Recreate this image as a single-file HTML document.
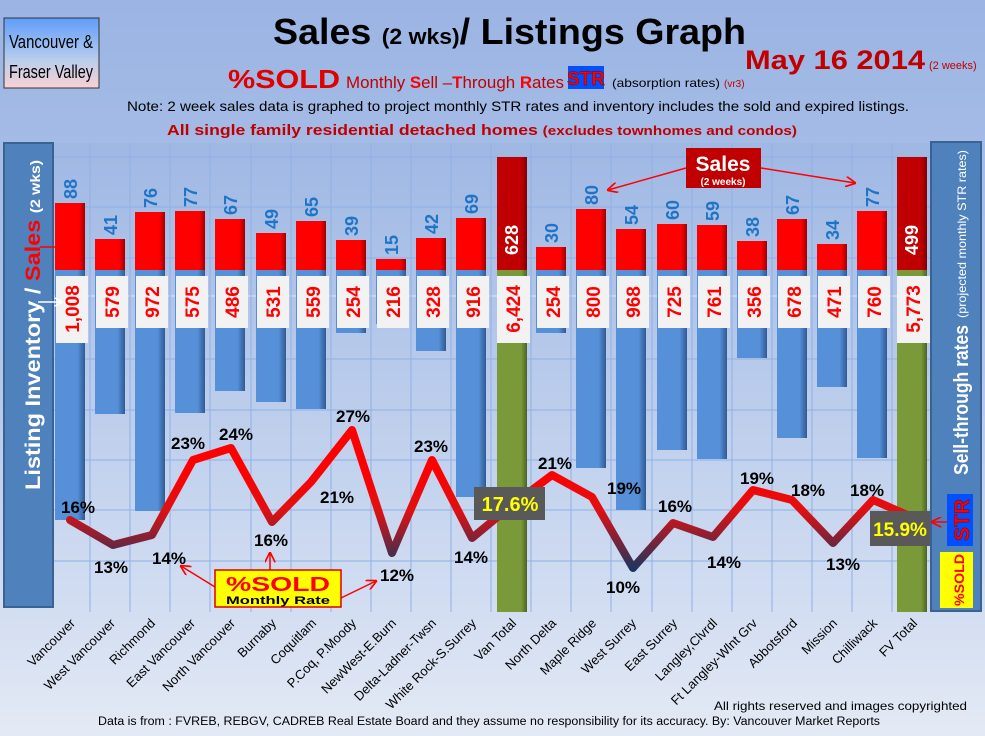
<!DOCTYPE html>
<html><head><meta charset="utf-8"><style>
body{margin:0;background:#9db5e4;}
svg{display:block;font-family:"Liberation Sans",Arial,sans-serif;}
</style></head><body>
<svg width="985" height="736" viewBox="0 0 985 736" xmlns="http://www.w3.org/2000/svg">
<defs>
<linearGradient id="bg" x1="0" y1="0" x2="0" y2="1"><stop offset="0" stop-color="#9bb4e3"/><stop offset="0.5" stop-color="#b2c6ea"/><stop offset="1" stop-color="#e4eaf5"/></linearGradient>
<linearGradient id="pa" x1="0" y1="0" x2="0" y2="1"><stop offset="0" stop-color="#9fb8e4"/><stop offset="1" stop-color="#d3def2"/></linearGradient>
<linearGradient id="vb" x1="0" y1="0" x2="0" y2="1"><stop offset="0" stop-color="#5f9dfb"/><stop offset="0.6" stop-color="#b9cdec"/><stop offset="1" stop-color="#fbd0d4"/></linearGradient>
<linearGradient id="rb" x1="0" y1="0" x2="1" y2="0"><stop offset="0" stop-color="#ff0000"/><stop offset="0.8" stop-color="#ff0000"/><stop offset="1" stop-color="#a00000"/></linearGradient>
<linearGradient id="bb" x1="0" y1="0" x2="1" y2="0"><stop offset="0" stop-color="#5590d8"/><stop offset="0.75" stop-color="#5590d8"/><stop offset="1" stop-color="#2f5a94"/></linearGradient>
<linearGradient id="gb" x1="0" y1="0" x2="1" y2="0"><stop offset="0" stop-color="#7a9a3a"/><stop offset="0.8" stop-color="#7a9a3a"/><stop offset="1" stop-color="#4d6422"/></linearGradient>
<linearGradient id="db" x1="0" y1="0" x2="1" y2="0"><stop offset="0" stop-color="#c00000"/><stop offset="0.8" stop-color="#c00000"/><stop offset="1" stop-color="#800000"/></linearGradient>
<linearGradient id="ln" gradientUnits="userSpaceOnUse" x1="0" y1="470" x2="0" y2="570"><stop offset="0" stop-color="#ff0000"/><stop offset="0.4" stop-color="#e01010"/><stop offset="1" stop-color="#1a3560"/></linearGradient>
<marker id="ar" viewBox="0 0 10 10" refX="9" refY="5" markerWidth="7" markerHeight="7" orient="auto"><path d="M0,0 L10,5 L0,10" fill="none" stroke="#ff0000" stroke-width="1.6"/></marker>
<marker id="aw" viewBox="0 0 10 10" refX="9" refY="5" markerWidth="6" markerHeight="6" orient="auto"><path d="M0,0 L10,5 L0,10" fill="none" stroke="#fff" stroke-width="1.6"/></marker>
</defs>
<rect width="985" height="736" fill="url(#bg)"/>
<rect x="50" y="143" width="882" height="469" fill="url(#pa)"/>
<g stroke="#8fb0e6" stroke-width="1">
<line x1="50" y1="157" x2="932" y2="157"/><line x1="50" y1="207" x2="932" y2="207"/><line x1="50" y1="258" x2="932" y2="258"/><line x1="50" y1="296" x2="932" y2="296" stroke="#dfe8f7"/><line x1="50" y1="359" x2="932" y2="359"/><line x1="50" y1="410" x2="932" y2="410"/><line x1="50" y1="460" x2="932" y2="460"/><line x1="50" y1="510" x2="932" y2="510"/><line x1="50" y1="561" x2="932" y2="561"/>
<line x1="90" y1="143" x2="90" y2="612"/><line x1="130" y1="143" x2="130" y2="612"/><line x1="170" y1="143" x2="170" y2="612"/><line x1="210" y1="143" x2="210" y2="612"/><line x1="251" y1="143" x2="251" y2="612"/><line x1="291" y1="143" x2="291" y2="612"/><line x1="331" y1="143" x2="331" y2="612"/><line x1="371" y1="143" x2="371" y2="612"/><line x1="411" y1="143" x2="411" y2="612"/><line x1="451" y1="143" x2="451" y2="612"/><line x1="491" y1="143" x2="491" y2="612"/><line x1="531" y1="143" x2="531" y2="612"/><line x1="571" y1="143" x2="571" y2="612"/><line x1="611" y1="143" x2="611" y2="612"/><line x1="652" y1="143" x2="652" y2="612"/><line x1="692" y1="143" x2="692" y2="612"/><line x1="732" y1="143" x2="732" y2="612"/><line x1="772" y1="143" x2="772" y2="612"/><line x1="812" y1="143" x2="812" y2="612"/><line x1="852" y1="143" x2="852" y2="612"/><line x1="892" y1="143" x2="892" y2="612"/>
</g>
<g fill="url(#bb)">
<rect x="55" y="270" width="30" height="250"/><rect x="95" y="270" width="30" height="144"/><rect x="135" y="270" width="30" height="241"/><rect x="175" y="270" width="30" height="143"/><rect x="215" y="270" width="30" height="121"/><rect x="256" y="270" width="30" height="132"/><rect x="296" y="270" width="30" height="139"/><rect x="336" y="270" width="30" height="63"/><rect x="376" y="270" width="30" height="54"/><rect x="416" y="270" width="30" height="81"/><rect x="456" y="270" width="30" height="227"/>
<rect x="536" y="270" width="30" height="63"/><rect x="576" y="270" width="30" height="198"/><rect x="616" y="270" width="30" height="240"/><rect x="657" y="270" width="30" height="180"/><rect x="697" y="270" width="30" height="189"/><rect x="737" y="270" width="30" height="88"/><rect x="777" y="270" width="30" height="168"/><rect x="817" y="270" width="30" height="117"/><rect x="857" y="270" width="30" height="188"/>
</g>
<rect x="497" y="270" width="30" height="342" fill="url(#gb)"/><rect x="897" y="270" width="30" height="342" fill="url(#gb)"/>
<g fill="url(#rb)">
<rect x="55" y="203" width="30" height="67"/><rect x="95" y="239" width="30" height="31"/><rect x="135" y="212" width="30" height="58"/><rect x="175" y="211" width="30" height="59"/><rect x="215" y="219" width="30" height="51"/><rect x="256" y="233" width="30" height="37"/><rect x="296" y="221" width="30" height="49"/><rect x="336" y="240" width="30" height="30"/><rect x="376" y="259" width="30" height="11"/><rect x="416" y="238" width="30" height="32"/><rect x="456" y="218" width="30" height="52"/>
<rect x="536" y="247" width="30" height="23"/><rect x="576" y="209" width="30" height="61"/><rect x="616" y="229" width="30" height="41"/><rect x="657" y="224" width="30" height="46"/><rect x="697" y="225" width="30" height="45"/><rect x="737" y="241" width="30" height="29"/><rect x="777" y="219" width="30" height="51"/><rect x="817" y="244" width="30" height="26"/><rect x="857" y="211" width="30" height="59"/>
</g>
<rect x="497" y="157" width="30" height="113" fill="url(#db)"/><rect x="897" y="157" width="30" height="113" fill="url(#db)"/>
<g font-weight="bold" font-size="18" fill="#1f74c6">
<text transform="translate(77,199) rotate(-90)">88</text><text transform="translate(117,235) rotate(-90)">41</text><text transform="translate(157,208) rotate(-90)">76</text><text transform="translate(197,207) rotate(-90)">77</text><text transform="translate(237,215) rotate(-90)">67</text><text transform="translate(278,229) rotate(-90)">49</text><text transform="translate(318,217) rotate(-90)">65</text><text transform="translate(358,236) rotate(-90)">39</text><text transform="translate(398,255) rotate(-90)">15</text><text transform="translate(438,234) rotate(-90)">42</text><text transform="translate(478,214) rotate(-90)">69</text>
<text transform="translate(558,243) rotate(-90)">30</text><text transform="translate(598,205) rotate(-90)">80</text><text transform="translate(638,225) rotate(-90)">54</text><text transform="translate(679,220) rotate(-90)">60</text><text transform="translate(719,221) rotate(-90)">59</text><text transform="translate(759,237) rotate(-90)">38</text><text transform="translate(799,215) rotate(-90)">67</text><text transform="translate(839,240) rotate(-90)">34</text><text transform="translate(879,207) rotate(-90)">77</text>
</g>
<g font-weight="bold" font-size="18" fill="#fff" text-anchor="middle">
<text transform="translate(518,240) rotate(-90)">628</text><text transform="translate(918,240) rotate(-90)">499</text>
</g>
<g fill="#f2f2f2">
<rect x="56" y="276" width="32" height="67"/><rect x="96" y="276" width="32" height="52"/><rect x="136" y="276" width="32" height="52"/><rect x="176" y="276" width="32" height="52"/><rect x="216" y="276" width="32" height="52"/><rect x="257" y="276" width="32" height="52"/><rect x="297" y="276" width="32" height="52"/><rect x="337" y="276" width="32" height="52"/><rect x="377" y="276" width="32" height="52"/><rect x="417" y="276" width="32" height="52"/><rect x="457" y="276" width="32" height="52"/><rect x="497" y="276" width="33" height="67"/>
<rect x="537" y="276" width="32" height="52"/><rect x="577" y="276" width="32" height="52"/><rect x="617" y="276" width="32" height="52"/><rect x="658" y="276" width="32" height="52"/><rect x="698" y="276" width="32" height="52"/><rect x="738" y="276" width="32" height="52"/><rect x="778" y="276" width="32" height="52"/><rect x="818" y="276" width="32" height="52"/><rect x="858" y="276" width="32" height="52"/><rect x="897" y="276" width="33" height="67"/>
</g>
<g font-weight="bold" font-size="19" fill="#ff0000" text-anchor="middle">
<text transform="translate(79,309) rotate(-90)">1,008</text><text transform="translate(119,302) rotate(-90)">579</text><text transform="translate(159,302) rotate(-90)">972</text><text transform="translate(199,302) rotate(-90)">575</text><text transform="translate(239,302) rotate(-90)">486</text><text transform="translate(280,302) rotate(-90)">531</text><text transform="translate(320,302) rotate(-90)">559</text><text transform="translate(360,302) rotate(-90)">254</text><text transform="translate(400,302) rotate(-90)">216</text><text transform="translate(440,302) rotate(-90)">328</text><text transform="translate(480,302) rotate(-90)">916</text><text transform="translate(520,309) rotate(-90)">6,424</text>
<text transform="translate(560,302) rotate(-90)">254</text><text transform="translate(600,302) rotate(-90)">800</text><text transform="translate(640,302) rotate(-90)">968</text><text transform="translate(681,302) rotate(-90)">725</text><text transform="translate(721,302) rotate(-90)">761</text><text transform="translate(761,302) rotate(-90)">356</text><text transform="translate(801,302) rotate(-90)">678</text><text transform="translate(841,302) rotate(-90)">471</text><text transform="translate(881,302) rotate(-90)">760</text><text transform="translate(920,309) rotate(-90)">5,773</text>
</g>
<polyline fill="none" stroke="url(#ln)" stroke-width="8" stroke-linejoin="round" stroke-linecap="round" points="70,520 113,545 152,535 193,460 231,448 272,522 311,482 352,430 392,553 432,460 472,538 512,505 552,475 592,497 633,568 673,523 713,537 753,490 792,500 833,543 873,500 912,517"/>
<g font-weight="bold" font-size="17" fill="#000" text-anchor="middle">
<text x="78" y="513">16%</text><text x="111" y="573">13%</text><text x="169" y="564">14%</text><text x="188" y="449">23%</text><text x="236" y="440">24%</text><text x="271" y="546">16%</text><text x="337" y="503">21%</text><text x="353" y="422">27%</text><text x="397" y="581">12%</text><text x="431" y="452">23%</text><text x="471" y="563">14%</text>
<text x="555" y="469">21%</text><text x="624" y="494">19%</text><text x="623" y="593">10%</text><text x="675" y="512">16%</text><text x="724" y="568">14%</text><text x="757" y="484">19%</text><text x="808" y="496">18%</text><text x="843" y="570">13%</text><text x="867" y="496">18%</text>
</g>
<rect x="474" y="487" width="71" height="33" fill="#595959"/><text x="510" y="511" text-anchor="middle" font-weight="bold" font-size="20" fill="#ffff00">17.6%</text>
<rect x="870" y="511" width="61" height="35" fill="#595959"/><text x="900" y="536" text-anchor="middle" font-weight="bold" font-size="19" fill="#ffff00">15.9%</text>
<rect x="4" y="143" width="49" height="464" fill="#4f81bd" stroke="#3a6394" stroke-width="2"/>
<text transform="translate(40,490) rotate(-90)" font-weight="bold" font-size="21" fill="#fff" textLength="330" lengthAdjust="spacingAndGlyphs">Listing Inventory / <tspan fill="#ff0000">Sales</tspan> <tspan font-size="14">(2  wks)</tspan></text>
<line x1="40" y1="247" x2="68" y2="247" stroke="#ff0000" stroke-width="1.5" marker-end="url(#ar)"/>
<line x1="38" y1="302" x2="62" y2="302" stroke="#fff" stroke-width="1.5" marker-end="url(#aw)"/>
<rect x="931" y="142" width="50" height="469" fill="#4f81bd" stroke="#3a6394" stroke-width="2"/>
<text transform="translate(968,475) rotate(-90)" font-weight="bold" font-size="20" fill="#fff" textLength="150" lengthAdjust="spacingAndGlyphs">Sell-through rates</text>
<text transform="translate(966,318) rotate(-90)" font-size="12" fill="#fff" textLength="168" lengthAdjust="spacingAndGlyphs">(projected monthly STR rates)</text>
<rect x="947" y="494" width="26" height="52" fill="#0050ff"/>
<text transform="translate(969,520) rotate(-90)" text-anchor="middle" font-weight="bold" font-size="21" fill="#ff0000" stroke="#7a0000" stroke-width="0.5">STR</text>
<rect x="940" y="552" width="33" height="56" fill="#ffff00"/>
<text transform="translate(964,580) rotate(-90)" text-anchor="middle" font-weight="bold" font-size="14" fill="#ff0000" textLength="52" lengthAdjust="spacingAndGlyphs">%SOLD</text>
<line x1="947" y1="522" x2="932" y2="522" stroke="#ff0000" stroke-width="1.5" marker-end="url(#ar)"/>
<line x1="686" y1="168" x2="608" y2="190" stroke="#ff0000" stroke-width="1.5" marker-end="url(#ar)"/>
<line x1="761" y1="168" x2="855" y2="183" stroke="#ff0000" stroke-width="1.5" marker-end="url(#ar)"/>
<rect x="686" y="148" width="75" height="40" fill="#c00000"/>
<text x="723" y="171" text-anchor="middle" font-weight="bold" font-size="21" fill="#fff">Sales</text>
<text x="723" y="185" text-anchor="middle" font-weight="bold" font-size="10" fill="#fff">(2 weeks)</text>
<line x1="215" y1="587" x2="181" y2="566" stroke="#ff0000" stroke-width="1.5" marker-end="url(#ar)"/>
<line x1="270" y1="570" x2="270" y2="553" stroke="#ff0000" stroke-width="1.5" marker-end="url(#ar)"/>
<line x1="341" y1="598" x2="376" y2="581" stroke="#ff0000" stroke-width="1.5" marker-end="url(#ar)"/>
<rect x="215" y="570" width="126" height="37" fill="#ffff00" stroke="#e00000" stroke-width="1.5"/>
<text x="278" y="591" text-anchor="middle" font-weight="bold" font-size="20" fill="#ff0000" textLength="104" lengthAdjust="spacingAndGlyphs">%SOLD</text>
<text x="278" y="604" text-anchor="middle" font-weight="bold" font-size="11" fill="#000" textLength="104" lengthAdjust="spacingAndGlyphs">Monthly Rate</text>
<g font-size="13" fill="#000" text-anchor="end">
<text transform="translate(76,624) rotate(-45)">Vancouver</text><text transform="translate(116,624) rotate(-45)">West Vancouver</text><text transform="translate(156,624) rotate(-45)">Richmond</text><text transform="translate(196,624) rotate(-45)">East Vancouver</text><text transform="translate(236,624) rotate(-45)">North Vancouver</text><text transform="translate(277,624) rotate(-45)">Burnaby</text><text transform="translate(317,624) rotate(-45)">Coquitlam</text><text transform="translate(357,624) rotate(-45)">P.Coq, P.Moody</text><text transform="translate(397,624) rotate(-45)">NewWest-E.Burn</text><text transform="translate(437,624) rotate(-45)">Delta-Ladner-Twsn</text><text transform="translate(477,624) rotate(-45)">White Rock-S.Surrey</text><text transform="translate(517,624) rotate(-45)">Van Total</text>
<text transform="translate(557,624) rotate(-45)">North Delta</text><text transform="translate(597,624) rotate(-45)">Maple Ridge</text><text transform="translate(637,624) rotate(-45)">West Surrey</text><text transform="translate(678,624) rotate(-45)">East Surrey</text><text transform="translate(718,624) rotate(-45)">Langley,Clvrdl</text><text transform="translate(758,624) rotate(-45)">Ft Langley-Wlnt Grv</text><text transform="translate(798,624) rotate(-45)">Abbotsford</text><text transform="translate(838,624) rotate(-45)">Mission</text><text transform="translate(878,624) rotate(-45)">Chilliwack</text><text transform="translate(918,624) rotate(-45)">FV Total</text>
</g>
<text x="714" y="710" font-size="12" fill="#000" textLength="253" lengthAdjust="spacingAndGlyphs">All rights reserved and  images copyrighted</text>
<text x="98" y="725" font-size="11.5" fill="#000" textLength="782" lengthAdjust="spacingAndGlyphs">Data is from : FVREB, REBGV, CADREB Real Estate Board and they assume no responsibility for its accuracy. By: Vancouver Market Reports</text>
<rect x="4" y="18" width="95" height="70" fill="url(#vb)" stroke="#333" stroke-width="1"/>
<text x="9" y="48" font-size="18" fill="#000" textLength="84" lengthAdjust="spacingAndGlyphs">Vancouver &amp;</text>
<text x="9" y="78" font-size="18" fill="#000" textLength="84" lengthAdjust="spacingAndGlyphs">Fraser Valley</text>
<text x="273" y="44" font-weight="bold" font-size="36" fill="#000" textLength="473" lengthAdjust="spacingAndGlyphs">Sales <tspan font-size="22">(2 wks)</tspan>/ Listings Graph</text>
<text x="745" y="69" font-weight="bold" font-size="27" fill="#c00000" textLength="180" lengthAdjust="spacingAndGlyphs">May 16 2014</text>
<text x="929" y="69" font-size="11" fill="#c00000">(2 weeks)</text>
<text x="228" y="88" font-weight="bold" font-size="26" fill="#e00000" textLength="112" lengthAdjust="spacingAndGlyphs">%SOLD</text>
<text x="346" y="88" font-size="17" fill="#c00000" textLength="218" lengthAdjust="spacingAndGlyphs">Monthly <tspan font-weight="bold" fill="#ff0000">S</tspan>ell –<tspan font-weight="bold" fill="#ff0000">T</tspan>hrough <tspan font-weight="bold" fill="#ff0000">R</tspan>ates</text>
<rect x="568" y="66" width="36" height="23" fill="#0050ff"/>
<text x="586" y="85" text-anchor="middle" font-weight="bold" font-size="19" fill="#ff0000" stroke="#600" stroke-width="0.4">STR</text>
<text x="612" y="87" font-size="12" fill="#000" textLength="108" lengthAdjust="spacingAndGlyphs">(absorption rates)</text>
<text x="724" y="87" font-size="10" fill="#c00000">(vr3)</text>
<text x="518" y="111" text-anchor="middle" font-size="14" fill="#000" textLength="782" lengthAdjust="spacingAndGlyphs">Note: 2 week sales data is graphed to project monthly STR rates and inventory includes the sold and expired listings.</text>
<text x="482" y="135" text-anchor="middle" font-weight="bold" font-size="15" fill="#c00000" textLength="630" lengthAdjust="spacingAndGlyphs">All single family residential detached homes <tspan font-size="13">(excludes townhomes and condos)</tspan></text>
</svg>
</body></html>
